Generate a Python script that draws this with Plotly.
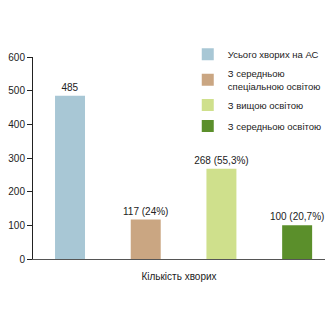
import plotly.graph_objects as go

axis_title = "Кількість хворих"
series_names = ["Усього хворих на АС", "З середньою<br>спеціальною освітою", "З вищою освітою", "З середньою освітою"]
values = [485, 117, 268, 100]
labels = ["485", "117 (24%)", "268 (55,3%)", "100 (20,7%)"]
colors = ["#a8c7d5", "#caa682", "#cfe08c", "#5b8f2b"]
y_ticks = [0, 100, 200, 300, 400, 500, 600]

FONT = "Liberation Sans, Arial, sans-serif"
FS = 10

fig = go.Figure()
for i, (name, v, lab, c) in enumerate(zip(series_names, values, labels, colors)):
    fig.add_trace(go.Bar(
        x=[name], y=[v], name=name, text=[lab], width=0.396,
        legendgroup=f"g{i}",
        textposition="outside", constraintext="none", cliponaxis=False,
        marker=dict(color=c, line=dict(width=0)),
        textfont=dict(family=FONT, size=FS, color="#222222"),
    ))

fig.update_layout(
    width=330, height=330,
    margin=dict(l=33, r=5, t=57, b=71, autoexpand=False),
    paper_bgcolor="white", plot_bgcolor="white",
    barmode="overlay",
    font=dict(family=FONT, size=FS, color="#222222"),
    showlegend=True,
    legend=dict(x=0.53, y=1.085, xanchor="left", yanchor="top",
                font=dict(family=FONT, size=9.5, color="#222222"),
                bgcolor="rgba(0,0,0,0)", tracegroupgap=2, itemwidth=30),
    xaxis=dict(range=[-0.489, 3.368], showline=True, linecolor="#555555", linewidth=1,
               ticks="", showticklabels=False, showgrid=False, zeroline=False,
               title=dict(text=axis_title, standoff=13,
                          font=dict(family=FONT, size=FS, color="#222222"))),
    yaxis=dict(range=[0, 600], tickvals=y_ticks, showline=True, linecolor="#222222", linewidth=1,
               ticks="outside", ticklen=5, tickcolor="#222222", showgrid=False, zeroline=False,
               tickfont=dict(family=FONT, size=FS, color="#222222")),
)

fig.write_html("out.html")
